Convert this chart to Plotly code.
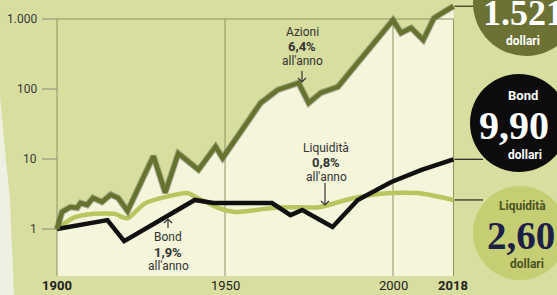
import numpy as np
import plotly.graph_objects as go

# ---------------- data ----------------
stock_years = [1900, 1901.5, 1904, 1906, 1907, 1909, 1910.7, 1913.4, 1916, 1918.2, 1921,
               1928.7, 1932.2, 1936.1, 1942.1, 1947.2, 1949.3, 1954.6, 1960.6, 1965.7,
               1971.9, 1974.9, 1978.5, 1983.6, 1991.3, 2000, 2002.4, 2005.4, 2009, 2012.2, 2018]
stock_vals = [1, 1.75, 2.06, 2.0, 2.35, 2.2, 2.77, 2.43, 3.1, 2.77, 1.8,
              11, 3.3, 12, 7.0, 15, 10.3, 24, 63, 97,
              122, 63, 88, 107, 307, 968, 631, 745, 500, 1032, 1521]

cash_years = [1900, 1905, 1911, 1917, 1921, 1926, 1934, 1939, 1942, 1948, 1953,
              1964, 1969, 1978, 1988, 1998, 2008, 2018]
cash_vals = [1, 1.45, 1.65, 1.65, 1.42, 2.3, 3.0, 3.25, 2.75, 2.0, 1.75,
             2.0, 2.05, 2.05, 2.75, 3.25, 3.25, 2.6]

bond_years = [1900, 1915, 1920, 1941, 1946.5, 1964, 1969.5, 1973, 1982, 1989.5, 1999.5, 2008.5, 2018]
bond_vals = [1.0, 1.34, 0.67, 2.6, 2.35, 2.35, 1.58, 1.87, 1.07, 2.6, 4.7, 7.0, 9.9]

y_ticks = [1, 10, 100, 1000]
y_ticktext = ["1", "10", "100", "1.000"]
x_ticks = [1900, 1950, 2000, 2018]
x_ticktext = ["<b>1900</b>", "1950", "2000", "<b>2018</b>"]
grid_years = [1900, 1950, 2000]

# ---------------- style ----------------
W, H = 557, 295
BG = "#d7de9f"
CREAM = "#f4f5da"
STOCK = "#66732e"
CASH = "#b9c55e"
BOND = "#101010"
GRID = "#8d925e"
SANS = "Roboto, 'Liberation Sans', sans-serif"
SERIF = "'Liberation Serif', 'DejaVu Serif', serif"

# axis geometry (plot area = whole figure)
PX_PER_YEAR = 3.36
X_LEFT_PX = 57
X0 = 1900 - X_LEFT_PX / PX_PER_YEAR
X1 = 1900 + (W - X_LEFT_PX) / PX_PER_YEAR
Y1_PX = 229          # pixel row of value 1
PX_PER_DEC = 70
Y0 = (Y1_PX - H) / PX_PER_DEC
YTOP = Y1_PX / PX_PER_DEC
BOX_BOTTOM = 10 ** ((Y1_PX - 276) / PX_PER_DEC)
BOX_TOP = 1000
X_END = 2018


def px(x):
    return x / W


def py(y):
    return 1 - y / H


fig = go.Figure()

# cream area under the stock curve
fig.add_trace(go.Scatter(x=[stock_years[0], stock_years[-1]], y=[BOX_BOTTOM, BOX_BOTTOM],
                         mode="lines", line=dict(width=0), hoverinfo="skip"))
fig.add_trace(go.Scatter(x=stock_years, y=stock_vals, mode="lines", line=dict(width=0),
                         fill="tonexty", fillcolor=CREAM, hoverinfo="skip"))

# grid / frame lines
gx, gy = [], []
for g in grid_years:
    gx += [g, g, None]
    gy += [BOX_BOTTOM, BOX_TOP, None]
gx += [X_END, X_END, None, 1900, X_END]
gy += [BOX_BOTTOM, BOX_TOP, None, BOX_TOP, BOX_TOP]
fig.add_trace(go.Scatter(x=gx, y=gy, mode="lines", line=dict(color=GRID, width=1),
                         hoverinfo="skip"))
# y tick marks
tx, ty = [], []
for v in y_ticks:
    tx += [1900 - 15 / PX_PER_YEAR, 1900, None]
    ty += [v, v, None]
fig.add_trace(go.Scatter(x=tx, y=ty, mode="lines", line=dict(color="#8a8a7a", width=1),
                         hoverinfo="skip"))

# series
fig.add_trace(go.Scatter(x=cash_years, y=cash_vals, mode="lines",
                         line=dict(color=CASH, width=4.5, shape="spline", smoothing=0.6)))
fig.add_trace(go.Scatter(x=bond_years, y=bond_vals, mode="lines",
                         line=dict(color=BOND, width=4.5)))
fig.add_trace(go.Scatter(x=stock_years, y=stock_vals, mode="lines",
                         line=dict(color="rgba(90,90,80,0.45)", width=6.5)))
fig.add_trace(go.Scatter(x=stock_years, y=stock_vals, mode="lines",
                         line=dict(color=STOCK, width=4.5)))

shapes = []
# connectors to circles (shape coords on a log axis take data values)
for val, yrs_ext, col, wd in [(stock_vals[-1], 7, "#4f5428", 1.5),
                              (bond_vals[-1], 8.8, "#222", 1.2),
                              (cash_vals[-1], 8.8, "#222", 1.2)]:
    shapes.append(dict(type="line", xref="x", yref="y", x0=X_END + 0.3, x1=X_END + yrs_ext,
                       y0=val, y1=val, line=dict(color=col, width=wd)))

# circles
def circle(cx, cy, r, color):
    return dict(type="circle", xref="paper", yref="paper", x0=px(cx - r), x1=px(cx + r),
                y0=py(cy + r), y1=py(cy - r), fillcolor=color, line=dict(width=0))

shapes.append(circle(526, 3, 53, "#6c7134"))
shapes.append(circle(519, 123, 49, "#0c0c0c"))
shapes.append(circle(520, 233, 47, "#c6ce74"))

# scan fold at left edge
shapes.append(dict(type="path", xref="paper", yref="paper", layer="below",
                   path=f"M 0 {py(95)} L {px(4)} {py(140)} L {px(10)} {py(200)} L {px(14)} {py(295)} L 0 {py(295)} Z",
                   fillcolor="#eef0e2", line=dict(width=0)))

# arrows (stem + chevron)
def arrow(x, y_tail, y_head, up=False):
    d = -1 if up else 1
    return [dict(type="line", xref="paper", yref="paper", x0=px(x), x1=px(x), y0=py(y_tail), y1=py(y_head),
                 line=dict(color="#333", width=1.2)),
            dict(type="path", xref="paper", yref="paper",
                 path=f"M {px(x-4)} {py(y_head - 4*d)} L {px(x)} {py(y_head)} L {px(x+4)} {py(y_head - 4*d)}",
                 line=dict(color="#333", width=1.2))]

shapes += arrow(302, 71, 82)
shapes += arrow(325, 183, 205)
shapes += arrow(168, 228, 219, up=True)

annotations = []
# y tick labels
for v, t in zip(y_ticks, y_ticktext):
    annotations.append(dict(xref="paper", yref="y", x=px(39), y=np.log10(v), text=t, showarrow=False,
                            xanchor="right", yanchor="middle",
                            font=dict(family=SANS, size=12, color="#3a3a3a")))
# x tick labels
for v, t in zip(x_ticks, x_ticktext):
    annotations.append(dict(xref="x", yref="paper", x=v, y=py(285), text=t, showarrow=False,
                            xanchor="center", yanchor="middle",
                            font=dict(family=SANS, size=13, color="#222")))

def label(x, y, text, size=12, color="#333", family=SANS, anchor="center"):
    annotations.append(dict(xref="paper", yref="paper", x=px(x), y=py(y), text=text, showarrow=False,
                            xanchor=anchor, yanchor="middle", font=dict(family=family, size=size, color=color)))

label(302, 32, "Azioni")
label(302, 47, "<b>6,4%</b>", size=13)
label(302, 61, "all'anno")

label(326, 148, "Liquidità")
label(326, 163, "<b>0,8%</b>", size=13)
label(326, 177, "all'anno")

label(168, 237, "Bond")
label(168, 252, "<b>1,9%</b>", size=13)
label(168, 266, "all'anno")

# circle texts
label(481, 13, "<b>1.521</b>", size=36, color="white", family=SERIF, anchor="left")
label(523, 41, "<b>dollari</b>", size=12, color="white")
label(523, 95, "<b>Bond</b>", size=13, color="white")
label(514, 125, "<b>9,90</b>", size=40, color="white", family=SERIF)
label(525, 155, "<b>dollari</b>", size=12, color="white")
label(522, 206, "<b>Liquidità</b>", size=12, color="#4a5222")
label(521, 235, "<b>2,60</b>", size=39, color="#1c2046", family=SERIF)
label(527, 264, "<b>dollari</b>", size=12, color="#4a5222")

fig.update_layout(
    width=W, height=H, margin=dict(l=0, r=0, t=0, b=0),
    paper_bgcolor=BG, plot_bgcolor=BG, showlegend=False,
    xaxis=dict(range=[X0, X1], visible=False, fixedrange=True),
    yaxis=dict(type="log", range=[Y0, YTOP], visible=False, fixedrange=True),
    shapes=shapes, annotations=annotations,
)

fig.write_html("out.html", config={"displayModeBar": False},
               post_script="document.body.style.margin='0';document.body.style.overflow='hidden';")
